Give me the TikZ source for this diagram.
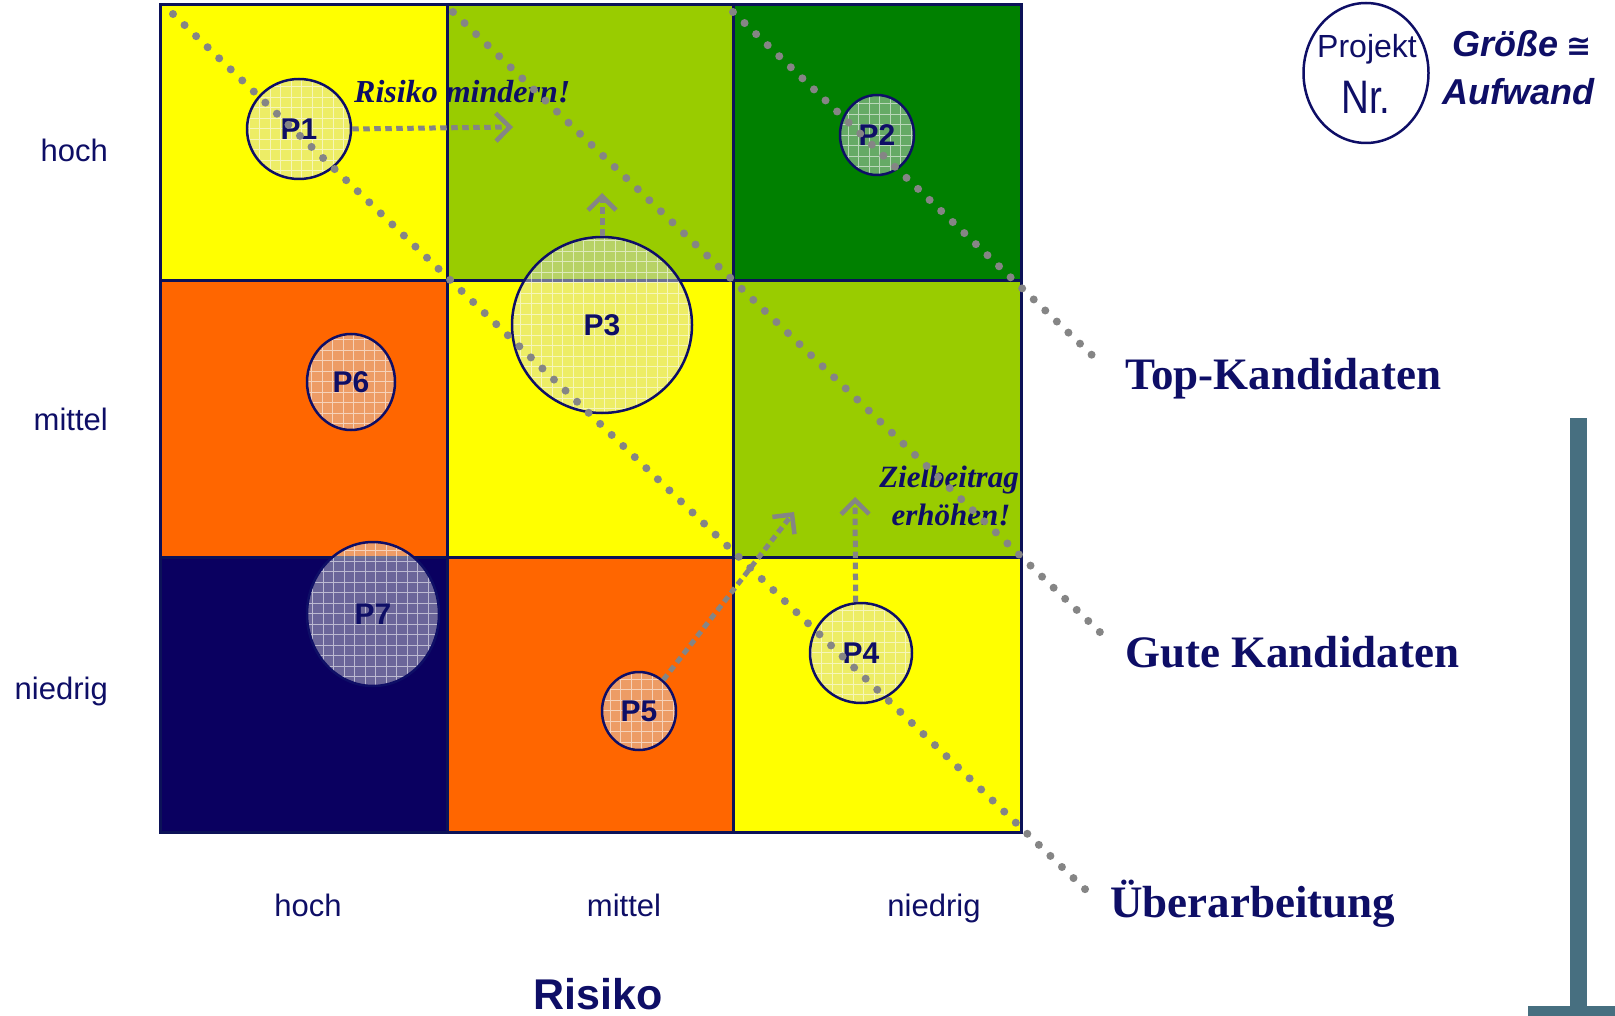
\documentclass[tikz,border=0pt]{standalone}
\usepackage{fontspec}
\setmainfont{Liberation Serif}
\setsansfont{Liberation Sans}
\newfontfamily\symfont{DejaVu Sans}
\usetikzlibrary{shapes.geometric,arrows.meta}

\definecolor{cyellow}{HTML}{FFFF00}
\definecolor{clgreen}{HTML}{99CC00}
\definecolor{cdgreen}{HTML}{008000}
\definecolor{corange}{HTML}{FF6600}
\definecolor{cnavy}{HTML}{0A0060}
\definecolor{ink}{HTML}{0E0E66}
\definecolor{gridink}{HTML}{0C1258}
\definecolor{dotgrey}{HTML}{858585}
\definecolor{barcol}{HTML}{476F80}
\definecolor{veil}{HTML}{DADADA}

\begin{document}
\begin{tikzpicture}[x=1pt,y=-1pt,
  proj/.style={ellipse, draw=ink, line width=2.5pt, fill=veil, fill opacity=0.47,
    text opacity=1, inner sep=0pt, text=ink,
    font=\sffamily\bfseries\fontsize{30}{32}\selectfont,
    path picture={\draw[white, opacity=0.55, line width=0.9pt]
      (path picture bounding box.south west) grid[step=10.5pt]
      (path picture bounding box.north east);}},
  dotline/.style={draw=dotgrey, line width=8pt, line cap=round, dash pattern=on 0pt off 16pt},
  movearrow/.style={draw=dotgrey, line width=5pt, dash pattern=on 6.5pt off 4.5pt,
    -{Straight Barb[length=14pt,width=28pt,line width=4.5pt]}},
  axislabel/.style={text=ink, font=\sffamily\fontsize{31}{36}\selectfont, inner sep=0pt},
  hint/.style={text=ink, font=\rmfamily\bfseries\itshape\fontsize{31}{36}\selectfont, inner sep=0pt},
  classlabel/.style={text=ink, font=\rmfamily\bfseries\fontsize{45}{50}\selectfont, inner sep=0pt, anchor=base west}
]
\useasboundingbox (0,0) rectangle (1615,1016);

% portfolio cells: rows hoch / mittel / niedrig, columns hoch / mittel / niedrig
\fill[cyellow] (160,5) rectangle (447,281);
\fill[clgreen] (447,5) rectangle (733,281);
\fill[cdgreen] (733,5) rectangle (1021,281);
\fill[corange] (160,281) rectangle (447,557);
\fill[cyellow] (447,281) rectangle (733,557);
\fill[clgreen] (733,281) rectangle (1021,557);
\fill[cnavy] (160,557) rectangle (447,832);
\fill[corange] (447,557) rectangle (733,832);
\fill[cyellow] (733,557) rectangle (1021,832);

% cell borders
\draw[gridink, line width=3pt] (160,5) rectangle (1021,832);
\draw[gridink, line width=3pt] (447,5) -- (447,832) (733,5) -- (733,832)
  (160,281) -- (1021,281) (160,557) -- (1021,557);

% projects (size = effort)
\node[proj, minimum width=104pt, minimum height=100pt] (p1) at (299,129) {P1};
\node[proj, minimum width=74pt, minimum height=80pt] (p2) at (877,135) {P2};
\node[proj, minimum width=180pt, minimum height=176pt] (p3) at (602,325) {P3};
\node[proj, minimum width=102pt, minimum height=100pt] (p4) at (861,653) {P4};
\node[proj, minimum width=74pt, minimum height=78pt] (p5) at (639,711) {P5};
\node[proj, minimum width=88pt, minimum height=96pt] (p6) at (351,382) {P6};
\node[proj, minimum width=132pt, minimum height=144pt] (p7) at (373,614) {P7};

% hints
\node[hint, anchor=base west, font=\rmfamily\bfseries\itshape\fontsize{32}{36}\selectfont] (h1) at (354,103) {Risiko mindern!};
\node[hint, anchor=base] (h2) at (949,487) {Zielbeitrag};
\node[hint, anchor=base] (h3) at (951,525) {erhöhen!};

% movement arrows
\coordinate (a1) at (513,127);
\coordinate (a2) at (602,193);
\coordinate (a3) at (794,512);
\coordinate (a4) at (855,497);
\draw[movearrow] (p1.east) -- (a1);
\draw[movearrow] (p3.north) -- (a2);
\draw[movearrow] (p5.52) -- (a3);
\draw[movearrow] (p4.96) -- (a4);

% class boundaries
\coordinate (d1a) at (173,14);
\coordinate (d1b) at (1088,892);
\coordinate (d2a) at (453,12);
\coordinate (d2b) at (1105,637);
\coordinate (d3a) at (733,12);
\coordinate (d3b) at (1095,358);
\draw[dotline] (d1a) -- (d1b);
\draw[dotline] (d2a) -- (d2b);
\draw[dotline] (d3a) -- (d3b);

% class labels
\node[classlabel] (top) at (1125,389) {Top-Kandidaten};
\node[classlabel] (gut) at (1125,667) {Gute Kandidaten};
\node[classlabel] (ueb) at (1110,917) {Überarbeitung};

% axis labels
\node[axislabel, anchor=base east] (yh) at (108,162) {hoch};
\node[axislabel, anchor=base east] (ym) at (108,430) {mittel};
\node[axislabel, anchor=base east] (yn) at (108,699) {niedrig};
\node[axislabel, anchor=base] (xh) at (308,916) {hoch};
\node[axislabel, anchor=base] (xm) at (624,916) {mittel};
\node[axislabel, anchor=base] (xn) at (934,916) {niedrig};
\node[text=ink, font=\sffamily\bfseries\fontsize{43}{46}\selectfont, inner sep=0pt, anchor=base] (xt) at (598,1009) {Risiko};

% legend
\node[ellipse, draw=ink, line width=2.5pt, minimum width=125pt, minimum height=140pt, inner sep=0pt] (leg) at (1366,73) {};
\node[text=ink, font=\sffamily\fontsize{32}{34}\selectfont, inner sep=0pt, anchor=base] (legp) at (1367,58) {Projekt};
\node[text=ink, font=\sffamily\fontsize{47}{48}\selectfont, inner sep=0pt, anchor=base, xscale=0.82] (legn) at (1366,114) {Nr.};
\node[text=ink, font=\sffamily\bfseries\itshape\fontsize{36}{38}\selectfont, inner sep=0pt, anchor=base west] (legg) at (1452,57) {Größe\hspace{8pt}{\symfont\fontsize{30}{30}\selectfont ≅}};
\node[text=ink, font=\sffamily\bfseries\itshape\fontsize{36}{38}\selectfont, inner sep=0pt, anchor=base west] (lega) at (1442,105) {Aufwand};

% side bar
\fill[barcol] (1570,418) rectangle (1587,1016);
\fill[barcol] (1528,1006) rectangle (1615,1016);
\end{tikzpicture}
\end{document}
